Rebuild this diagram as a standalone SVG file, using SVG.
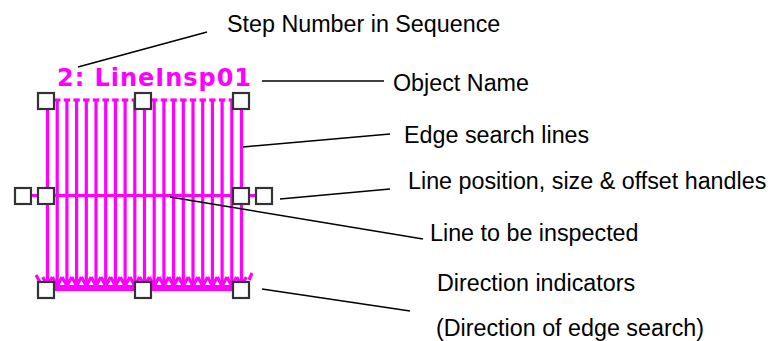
<svg xmlns="http://www.w3.org/2000/svg" width="779" height="341" viewBox="0 0 779 341">
  <style>
    .lbl { font-family: "Liberation Sans", Arial, sans-serif; font-size: 23.3px; fill: #000; }
    .name { font-family: "DejaVu Sans", Verdana, sans-serif; font-weight: bold; font-size: 24px; fill: #FF00FF; }
    .mg { stroke: #FF00FF; stroke-width: 3.2; fill: none; }
    .h { fill: #fff; stroke: #333; stroke-width: 2.2; }
    .conn { stroke: #000; stroke-width: 1.5; fill: none; }
  </style>
  <defs>
    <g id="sl">
      <line x1="0" y1="99" x2="0" y2="286" class="mg"/>
      <line x1="-3.2" y1="100" x2="3.2" y2="100" class="mg"/>
      <polyline points="-4.8,277 0,286 4.8,277" class="mg"/>
    </g>
    <rect id="hd" width="16" height="16" class="h"/>
  </defs>
  <rect width="779" height="341" fill="#fff"/>

  <g id="tool">
    <text class="name" x="57" y="86" textLength="194" lengthAdjust="spacing">2: LineInsp01</text>
    <g id="search-lines">
      <use href="#sl" x="47.5"/>
      <use href="#sl" x="57.2"/>
      <use href="#sl" x="66.9"/>
      <use href="#sl" x="76.6"/>
      <use href="#sl" x="86.3"/>
      <use href="#sl" x="96"/>
      <use href="#sl" x="105.7"/>
      <use href="#sl" x="115.4"/>
      <use href="#sl" x="125.1"/>
      <use href="#sl" x="134.8"/>
      <use href="#sl" x="144.5"/>
      <use href="#sl" x="154.2"/>
      <use href="#sl" x="163.9"/>
      <use href="#sl" x="173.6"/>
      <use href="#sl" x="183.3"/>
      <use href="#sl" x="193"/>
      <use href="#sl" x="202.7"/>
      <use href="#sl" x="212.4"/>
      <use href="#sl" x="222.1"/>
      <use href="#sl" x="231.8"/>
      <use href="#sl" x="241.5"/>
    </g>
    <g id="direction-band">
      <line x1="42" y1="288" x2="248" y2="288" stroke="#FF00FF" stroke-width="6"/>
      <line x1="36" y1="275" x2="40" y2="282" class="mg"/>
      <line x1="252" y1="273" x2="249" y2="280" class="mg"/>
    </g>
    <line id="inspect-line" x1="31" y1="195.5" x2="257" y2="195.5" class="mg"/>
    <g id="handles">
      <use href="#hd" x="38" y="93"/>
      <use href="#hd" x="135" y="93"/>
      <use href="#hd" x="233" y="93"/>
      <use href="#hd" x="15" y="188"/>
      <use href="#hd" x="38" y="188"/>
      <use href="#hd" x="233" y="188"/>
      <use href="#hd" x="256" y="188"/>
      <use href="#hd" x="38" y="282"/>
      <use href="#hd" x="135" y="282"/>
      <use href="#hd" x="233" y="282"/>
    </g>
  </g>

  <g id="label-step"><text class="lbl" x="227" y="32">Step Number in Sequence</text></g>
  <g id="label-name"><text class="lbl" x="393" y="91">Object Name</text></g>
  <g id="label-edge"><text class="lbl" x="404" y="143">Edge search lines</text></g>
  <g id="label-handles"><text class="lbl" x="408" y="189">Line position, size &amp; offset handles</text></g>
  <g id="label-line"><text class="lbl" x="430" y="241">Line to be inspected</text></g>
  <g id="label-dir"><text class="lbl" x="437" y="291">Direction indicators</text></g>
  <g id="label-dir2"><text class="lbl" x="436" y="336">(Direction of edge search)</text></g>

  <g id="connectors">
    <line class="conn" x1="78" y1="67" x2="207" y2="32"/>
    <line class="conn" x1="262" y1="81" x2="384" y2="81"/>
    <line class="conn" x1="243" y1="147" x2="390" y2="134"/>
    <line class="conn" x1="280" y1="199" x2="390" y2="189"/>
    <line class="conn" x1="170" y1="197" x2="423" y2="239"/>
    <line class="conn" x1="262" y1="289" x2="410" y2="311"/>
  </g>
</svg>
